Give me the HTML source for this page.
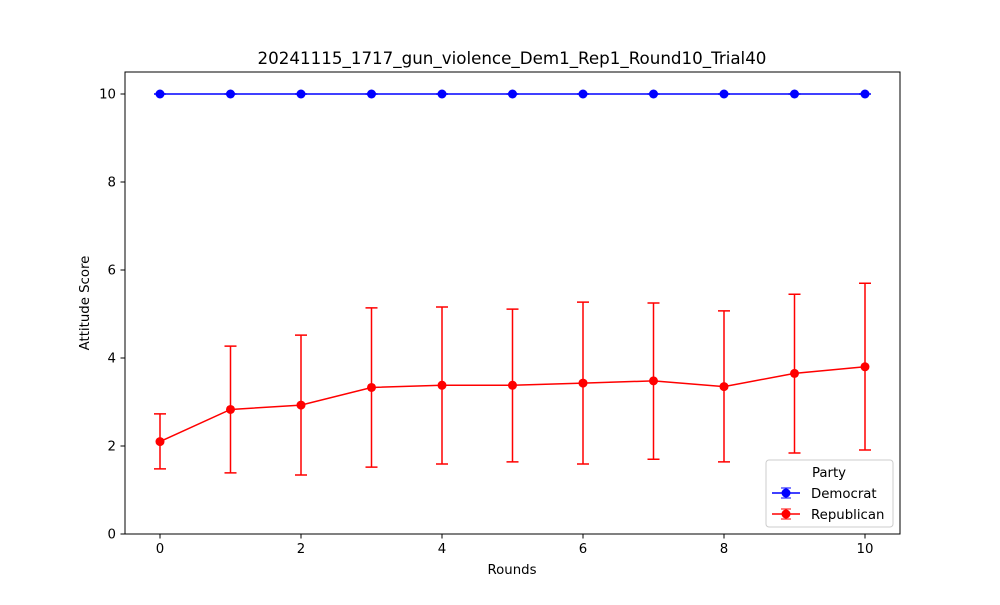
<!DOCTYPE html>
<html><head><meta charset="utf-8"><style>
body{margin:0;background:#fff;}
svg text{font-family:"DejaVu Sans","Liberation Sans",sans-serif;fill:#000;}
</style></head><body>
<svg id="chart" width="1000" height="600" xmlns="http://www.w3.org/2000/svg">
<rect width="1000" height="600" fill="#fff"/>
<text x="512" y="64" font-size="16.7" text-anchor="middle">20241115_1717_gun_violence_Dem1_Rep1_Round10_Trial40</text>
<g id="ticks"></g>
<g id="series"></g>
<rect x="125" y="72" width="775" height="462" fill="none" stroke="#000" stroke-width="1"/>
<text x="512" y="574" font-size="13.3" text-anchor="middle">Rounds</text>
<text x="89" y="303" font-size="13.3" text-anchor="middle" transform="rotate(-90 89 303)">Attitude Score</text>
<g>
<rect x="766" y="460" width="127" height="67" rx="3" fill="#fff" stroke="#ccc"/>
<text x="829" y="477" font-size="13.3" text-anchor="middle">Party</text>
<g>
<line x1="772" y1="493" x2="800" y2="493" stroke="#0000ff" stroke-width="1.5"/><line x1="786" y1="488" x2="786" y2="498" stroke="#0000ff"/><line x1="781" y1="488" x2="791" y2="488" stroke="#0000ff"/><line x1="781" y1="498" x2="791" y2="498" stroke="#0000ff"/><circle cx="786" cy="493" r="4.5" fill="#0000ff"/>
<text x="811" y="498" font-size="13.3">Democrat</text></g>
<g>
<line x1="772" y1="514" x2="800" y2="514" stroke="#ff0000" stroke-width="1.5"/><line x1="786" y1="509" x2="786" y2="519" stroke="#ff0000"/><line x1="781" y1="509" x2="791" y2="509" stroke="#ff0000"/><line x1="781" y1="519" x2="791" y2="519" stroke="#ff0000"/><circle cx="786" cy="514" r="4.5" fill="#ff0000"/>
<text x="811" y="519" font-size="13.3">Republican</text></g>
</g>
</svg>
<script>
const rounds=[0,1,2,3,4,5,6,7,8,9,10];
const demMean=[10,10,10,10,10,10,10,10,10,10,10];
const demLow=[10,10,10,10,10,10,10,10,10,10,10];
const demHigh=[10,10,10,10,10,10,10,10,10,10,10];
const repMean=[2.1,2.83,2.93,3.33,3.38,3.38,3.43,3.48,3.35,3.65,3.8];
const repLow=[1.48,1.39,1.34,1.52,1.59,1.64,1.59,1.7,1.64,1.84,1.91];
const repHigh=[2.73,4.27,4.52,5.14,5.16,5.11,5.27,5.25,5.07,5.45,5.7];
const xTicks=[0,2,4,6,8,10];
const yTicks=[0,2,4,6,8,10];
const NS="http://www.w3.org/2000/svg";
const X=v=>160+v*70.5, Y=v=>534-v*44;
function mk(t,a,p){const e=document.createElementNS(NS,t);for(const k in a)e.setAttribute(k,a[k]);p.appendChild(e);return e;}
const tg=document.getElementById('ticks');
xTicks.forEach(v=>{
 const l=mk('line',{x1:X(v),x2:X(v),y1:534,y2:538.5,stroke:'#000'},tg);
 
 
 const t=mk('text',{x:X(v),y:553,'font-size':13.3,'text-anchor':'middle'},tg);t.textContent=v;
 
 
});
yTicks.forEach(v=>{
 const l=mk('line',{x1:120.5,x2:125,y1:Y(v),y2:Y(v),stroke:'#000'},tg);
 
 
 const t=mk('text',{x:116,y:Y(v)+4.5,'font-size':13.3,'text-anchor':'end'},tg);t.textContent=v;
 
 
});
const sg=document.getElementById('series');
function series(name,mean,lo,hi,col){
 const g=mk('g',{},sg);
 
 
 rounds.forEach((r,i)=>{
  const x=X(r);
  const e=mk('path',{d:`M${x},${Y(lo[i])}V${Y(hi[i])}M${x-6},${Y(lo[i])}H${x+6}M${x-6},${Y(hi[i])}H${x+6}`,stroke:col,'stroke-width':1.5,fill:'none'},g);
  
  
 });
 const ln=mk('polyline',{points:rounds.map((r,i)=>X(r)+','+Y(mean[i])).join(' '),stroke:col,'stroke-width':1.5,fill:'none'},g);
 
 
 rounds.forEach((r,i)=>{
  const c=mk('circle',{cx:X(r),cy:Y(mean[i]),r:4.5,fill:col},g);
  
  
 });
}
series('democrat',demMean,demLow,demHigh,'#0000ff');
series('republican',repMean,repLow,repHigh,'#ff0000');
</script>
</body></html>
